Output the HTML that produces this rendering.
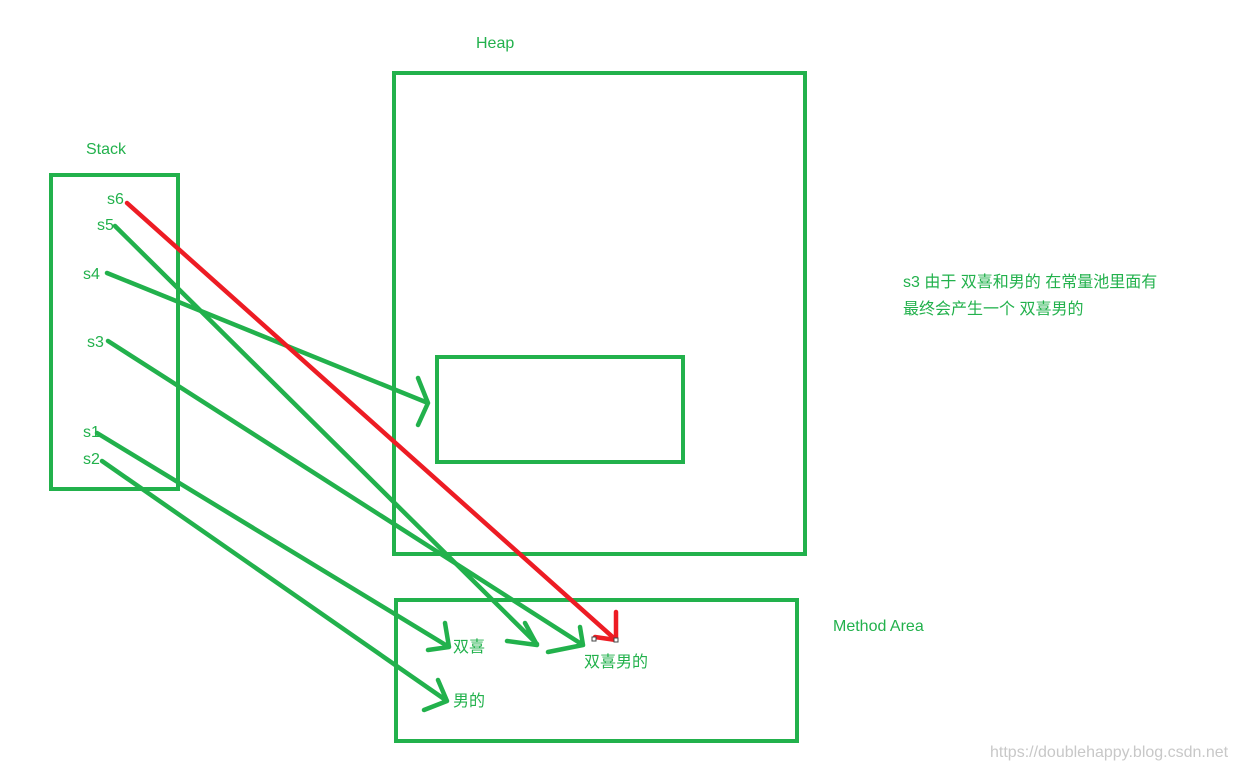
<!DOCTYPE html>
<html><head><meta charset="utf-8"><style>
html,body{margin:0;padding:0;background:#fff;}
svg{display:block}
text{font-family:"Liberation Sans","Noto Sans CJK SC",sans-serif;fill:#22b14c;font-size:16px}
</style></head><body>
<svg width="1239" height="770" viewBox="0 0 1239 770" xmlns="http://www.w3.org/2000/svg">
<g fill="none" stroke="#22b14c" stroke-width="4">
<rect x="51" y="175" width="127" height="314"/>
<rect x="394" y="73" width="411" height="481"/>
<rect x="437" y="357" width="246" height="105"/>
<rect x="396" y="600" width="401" height="141"/>
</g>
<g fill="none" stroke="#22b14c" stroke-width="4.5" stroke-linecap="round" stroke-linejoin="round">
<path d="M115 226 L537 644 M525 623 L537 645 L507 641"/>
<path d="M107 273 L428 403 M418 378 L428 403 L418 425"/>
<path d="M108 341 L583 645 M580 627 L583 645 L548 652"/>
<path d="M97 433 L449 647 M445 623 L449 647 L428 650"/>
<path d="M102 461 L447 701 M438 680 L447 701 L424 710"/>
</g>
<g fill="none" stroke="#ed1c24" stroke-width="4.5" stroke-linecap="round" stroke-linejoin="round">
<path d="M127 203 L616 640 M616 612 L616 640 L595 637"/>
</g>
<rect x="592" y="637" width="4" height="4" fill="#fff" stroke="#444" stroke-width="1"/>
<rect x="614" y="638" width="4" height="4" fill="#fff" stroke="#444" stroke-width="1"/>
<text x="476" y="48">Heap</text>
<text x="86" y="154">Stack</text>
<text x="107" y="204">s6</text>
<text x="97" y="230">s5</text>
<text x="83" y="279">s4</text>
<text x="87" y="347">s3</text>
<text x="83" y="437">s1</text>
<text x="83" y="464">s2</text>
<text x="833" y="631">Method Area</text>
<text x="453" y="652">双喜</text>
<text x="584" y="667">双喜男的</text>
<text x="453" y="706">男的</text>
<text x="903" y="287">s3 由于 双喜和男的 在常量池里面有</text>
<text x="903" y="314">最终会产生一个 双喜男的</text>
<text x="990" y="757" style="fill:#c8c8c8;font-size:16px">https://doublehappy.blog.csdn.net</text>
</svg>
</body></html>
